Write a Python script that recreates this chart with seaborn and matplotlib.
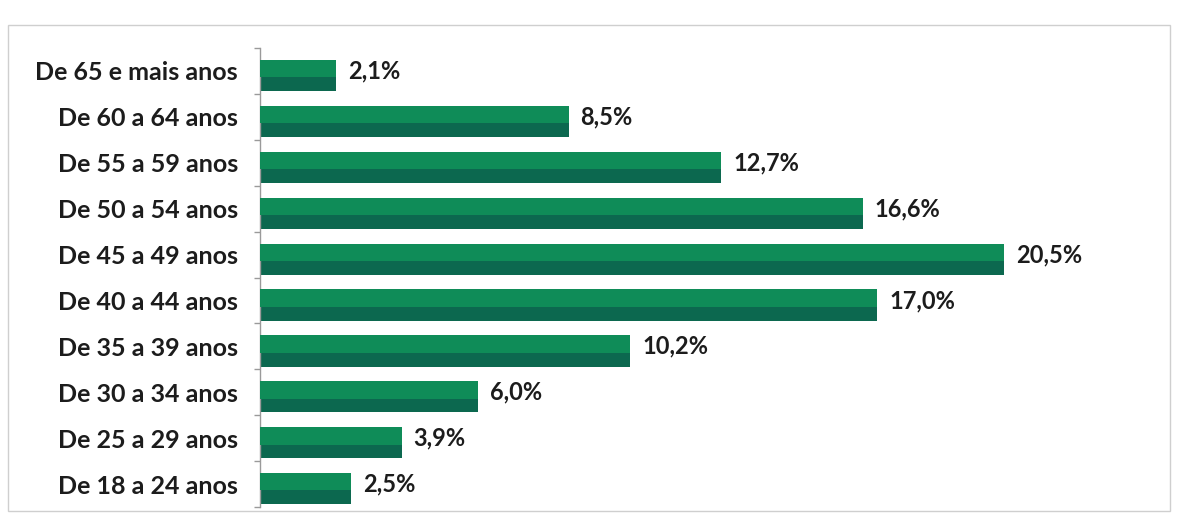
import matplotlib
matplotlib.use("Agg")
import matplotlib.pyplot as plt
import matplotlib.patches as mpatches
import seaborn as sns
import pandas as pd
import numpy as np

categories = [
    "De 65 e mais anos",
    "De 60 a 64 anos",
    "De 55 a 59 anos",
    "De 50 a 54 anos",
    "De 45 a 49 anos",
    "De 40 a 44 anos",
    "De 35 a 39 anos",
    "De 30 a 34 anos",
    "De 25 a 29 anos",
    "De 18 a 24 anos",
]
shares = [2.1, 8.5, 12.7, 16.6, 20.5, 17.0, 10.2, 6.0, 3.9, 2.5]

df = pd.DataFrame({"faixa": categories, "pct": shares})

sns.set_theme(style="white")
plt.rcParams["font.family"] = ["Lato", "DejaVu Sans"]

W, H = 1179, 521
fig = plt.figure(figsize=(W / 100, H / 100), dpi=100)
fig.patch.set_facecolor("white")

left, right, top, bottom = 260, 1160, 48, 507
ax = fig.add_axes([left / W, 1 - bottom / H, (right - left) / W, (bottom - top) / H])

dark = "#0c684f"
light = "#0f8c58"
txt = "#1c1c1c"

# full bar in the darker shade (lower face), lighter upper face on top
sns.barplot(data=df, y="faixa", x="pct", orient="h", color=dark,
            width=0.68, saturation=1, linewidth=0, ax=ax)
pos = np.arange(len(categories))
ax.barh(pos - 0.15, df["pct"], height=0.38, color=light, linewidth=0, zorder=3)

n = len(categories)
ax.set_xlim(0, (right - left) / 36.3)
ax.set_ylim(n - 0.6, -0.6)
ax.set_xlabel("")
ax.set_ylabel("")
ax.set_xticks([])
for s in ["top", "right", "bottom"]:
    ax.spines[s].set_visible(False)
ax.spines["left"].set_color("#9a9a9a")
ax.spines["left"].set_linewidth(1.0)

ax.set_yticks(pos - 0.1)
ax.set_yticklabels(categories)
ax.tick_params(axis="y", length=0, pad=16, labelsize=18)
for lab in ax.get_yticklabels():
    lab.set_fontweight("bold")
    lab.set_color(txt)
ax.set_yticks(np.arange(n + 1) - 0.6, minor=True)
ax.tick_params(axis="y", which="minor", length=4, color="#9a9a9a", width=1, left=True)

for i, v in enumerate(shares):
    ax.text(v + 0.33, i - 0.1, f"{v:.1f}%".replace(".", ","), va="center",
            ha="left", fontsize=17, fontweight="bold", color=txt)

# light border framing the chart area
fig.patches.append(mpatches.Rectangle((8 / W, 1 - 511 / H), 1162 / W, 486 / H,
                                      transform=fig.transFigure, fill=False,
                                      edgecolor="#cfcfcf", linewidth=1.0))

fig.savefig("out.png", dpi=100, facecolor="white")
